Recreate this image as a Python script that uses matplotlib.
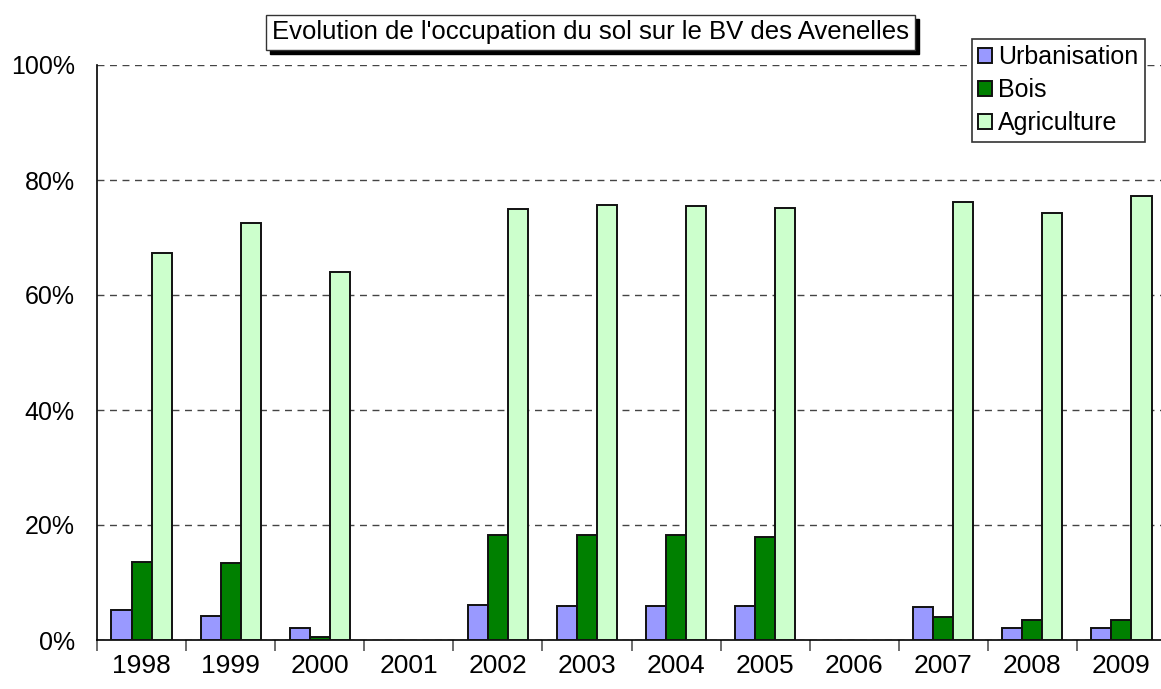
import numpy as np
import matplotlib.pyplot as plt
from matplotlib.patches import Rectangle

plt.rcParams['font.family'] = ['Liberation Sans', 'DejaVu Sans']

years = ["1998", "1999", "2000", "2001", "2002", "2003", "2004", "2005",
         "2006", "2007", "2008", "2009"]
urbanisation = [5.2, 4.2, 2.1, np.nan, 6.1, 5.9, 5.9, 5.9, np.nan, 5.7, 2.1, 2.1]
bois = [13.6, 13.4, 0.5, np.nan, 18.3, 18.3, 18.3, 17.9, np.nan, 4.0, 3.5, 3.5]
agriculture = [67.3, 72.5, 64.0, np.nan, 75.0, 75.7, 75.5, 75.1, np.nan, 76.2, 74.3, 77.2]

W, H = 1161, 689
fig = plt.figure(figsize=(W / 100, H / 100), dpi=100)
ax = fig.add_axes([97 / W, (H - 640) / H, (1166 - 97) / W, (640 - 65) / H])

x = np.arange(len(years))
bw = 0.225
series = [(urbanisation, "#9999FF", "Urbanisation"),
          (bois, "#008000", "Bois"),
          (agriculture, "#CCFFCC", "Agriculture")]
for i, (vals, col, lab) in enumerate(series):
    ax.bar(x + (i - 1) * bw, vals, bw, color=col, edgecolor="#111111",
           linewidth=1.4, label=lab, zorder=3)

ax.set_xlim(-0.5, len(years) - 0.5)
ax.set_ylim(0, 100)
ax.set_yticks([0, 20, 40, 60, 80, 100])
ax.set_yticklabels([f"{v}%" for v in [0, 20, 40, 60, 80, 100]], fontsize=18)
ax.tick_params(axis="y", length=0, pad=16)
ax.set_xticks(x)
ax.set_xticklabels(years, fontsize=19)
ax.set_xticks(np.arange(len(years) + 1) - 0.5, minor=True)
ax.tick_params(axis="x", which="major", length=0, pad=10)
ax.tick_params(axis="x", which="minor", length=8, width=1.2, color="#555555")
ax.yaxis.grid(True, linestyle=(0, (5, 4)), color="#444444", linewidth=1, zorder=0)
ax.spines["top"].set_visible(False)
ax.spines["right"].set_visible(False)
ax.spines["left"].set_linewidth(1.2)
ax.spines["bottom"].set_linewidth(1.2)

leg = ax.legend(loc="upper left", bbox_to_anchor=(972 / W, 1 - 39 / H),
                bbox_transform=fig.transFigure, fontsize=18, frameon=True,
                fancybox=False, edgecolor="#333333", framealpha=1,
                handlelength=0.55, handleheight=0.55, handletextpad=0.25,
                borderpad=0.25, labelspacing=0.36, borderaxespad=0)
leg.get_frame().set_linewidth(1.2)
leg.set_zorder(5)

# title box with shadow
x0, y0, x1, y1 = 266, 15, 915, 50
fig.patches.append(Rectangle(((x0 + 4) / W, 1 - (y1 + 4) / H), (x1 - x0) / W,
                             (y1 - y0) / H, transform=fig.transFigure,
                             facecolor="black", edgecolor="black", zorder=5))
fig.patches.append(Rectangle((x0 / W, 1 - y1 / H), (x1 - x0) / W, (y1 - y0) / H,
                             transform=fig.transFigure, facecolor="white",
                             edgecolor="#333333", linewidth=1, zorder=6))
fig.text((x0 + x1) / 2 / W, 1 - (y0 + y1) / 2 / H,
         "Evolution de l'occupation du sol sur le BV des Avenelles",
         ha="center", va="center", fontsize=18.5, zorder=7)

fig.savefig("out.png", dpi=100)
